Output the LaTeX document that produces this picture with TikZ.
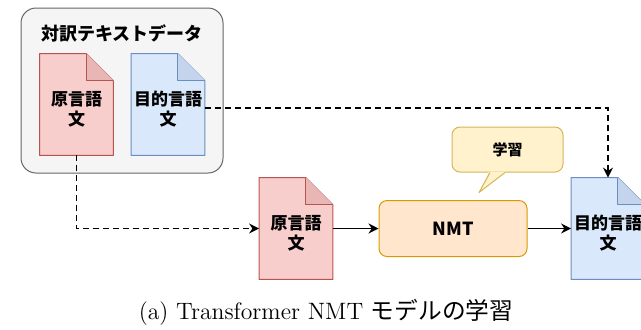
\documentclass[tikz,border=0pt]{standalone}
\usepackage{fontspec}
\newfontfamily\jpfont{Noto Sans CJK JP}
\usetikzlibrary{arrows.meta,backgrounds}
\definecolor{fillsrc}{HTML}{F8CECC}
\definecolor{linesrc}{HTML}{B85450}
\definecolor{foldsrc}{HTML}{E8B7B5}
\definecolor{filltgt}{HTML}{DAE8FC}
\definecolor{linetgt}{HTML}{6C8EBF}
\definecolor{foldtgt}{HTML}{C4D4EC}
\definecolor{fillgroup}{HTML}{F5F5F5}
\definecolor{linegroup}{HTML}{666666}
\definecolor{fillnmt}{HTML}{FFE6CC}
\definecolor{linenmt}{HTML}{D79B00}
\definecolor{filllearn}{HTML}{FFF2CC}
\definecolor{linelearn}{HTML}{D6B656}
\tikzset{
  groupbox/.style={draw=linegroup, fill=fillgroup, line width=0.5pt, rounded corners=7.5pt, minimum width=101pt, minimum height=82.5pt},
  doc/.style={minimum width=36.5pt, minimum height=50.5pt, inner sep=0pt},
  doctext/.style={align=center, font=\jpfont\bfseries\fontsize{8.5}{10}\selectfont, yshift=-2.25pt},
  docline/.style={line width=0.5pt, line join=round},
  dashline/.style={line width=0.9pt, dash pattern=on 3pt off 2pt, -{Stealth[length=5pt,width=5pt]}},
  flowline/.style={line width=0.9pt, -{Stealth[length=5pt,width=5pt]}},
  modelbox/.style={draw=linenmt, fill=fillnmt, line width=0.5pt, rounded corners=4pt, minimum width=74pt, minimum height=28pt, font=\jpfont\bfseries\fontsize{9}{11}\selectfont},
  bubble/.style={draw=linelearn, fill=filllearn, line width=0.5pt, rounded corners=4pt, minimum width=55.5pt, minimum height=22.5pt, font=\jpfont\bfseries\fontsize{7.5}{9}\selectfont},
}
\begin{document}
\begin{tikzpicture}[x=0.5pt, y=-0.5pt]
\useasboundingbox (0,0) rectangle (641,329);
% parallel corpus
\node[font=\jpfont\bfseries\fontsize{9}{11}\selectfont] (pairtitle) at (122,33) {対訳テキストデータ};
\node[doc, label={[doctext]center:{原言語\\文}}] (srcdata) at (76.5,104.5) {};
\node[doc, label={[doctext]center:{目的言語\\文}}] (tgtdata) at (168,104.5) {};
% training flow
\node[doc, label={[doctext]center:{原言語\\文}}] (srcin) at (296,228.5) {};
\node[modelbox] (nmt) at (453,228.5) {NMT};
\node[doc, label={[doctext]center:{目的言語\\文}}] (tgtout) at (608,228.5) {};
\node[bubble] (learn) at (507.5,149.5) {学習};
\fill[filllearn] ([xshift=-9.25pt,yshift=0.5pt]learn.south) -- ([xshift=-14.25pt,yshift=-10pt]learn.south) -- ([xshift=-0.75pt,yshift=0.5pt]learn.south) -- cycle;
\draw[linelearn, line width=0.5pt, line join=round] ([xshift=-8.75pt]learn.south) -- ([xshift=-14.25pt,yshift=-10pt]learn.south) -- ([xshift=-1.25pt]learn.south);
\node[anchor=base, font=\fontsize{11.85}{14}\selectfont] (caption) at (326,319) {(a) Transformer NMT {\jpfont モデルの学習}};
\begin{scope}[on background layer]
\node[groupbox] (pair) at (122,90.5) {};
\foreach \n/\c in {srcdata/src, tgtdata/tgt, srcin/src, tgtout/tgt} {
  \draw[docline, draw=line\c, fill=fill\c] (\n.north west) -- ([xshift=-13.5pt]\n.north east) -- ([yshift=-13.5pt]\n.north east) -- (\n.south east) -- (\n.south west) -- cycle;
  \draw[docline, draw=line\c, fill=fold\c] ([xshift=-13.5pt]\n.north east) -- ([xshift=-13.5pt,yshift=-13.5pt]\n.north east) -- ([yshift=-13.5pt]\n.north east);
}
\end{scope}
\draw[dashline] ([yshift=-1.75pt]tgtdata.east) -| (tgtout.north);
\draw[dashline] (srcdata.south) |- (srcin.west);
\draw[flowline] (srcin.east) -- (nmt.west);
\draw[flowline] (nmt.east) -- (tgtout.west);
\end{tikzpicture}
\end{document}
